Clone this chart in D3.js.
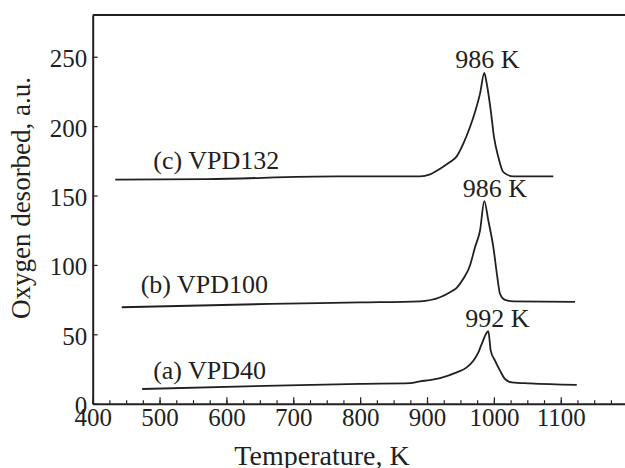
<!DOCTYPE html>
<html>
<head>
<meta charset="utf-8">
<script src="https://cdn.jsdelivr.net/npm/d3@7"></script>
<style>
  html, body { margin: 0; padding: 0; background: #fff; }
  svg { display: block; }
</style>
</head>
<body>
<script>
// TPD curves: [temperature K, oxygen desorbed a.u.]
const curveA = [
  [474, 10.6], [675, 13], [800, 14.3], [875, 14.8], [889.5, 16.1], [904, 17],
  [919.5, 18.5], [944.4, 22.6], [959.4, 26.2], [969.3, 31], [976.8, 37],
  [981.8, 43], [991.7, 52.2], [995.3, 38.2], [1001.7, 31], [1009.2, 23.8],
  [1016.7, 17.8], [1026.7, 15.4], [1054.1, 14.6], [1124, 13.5]
];
const curveB = [
  [443.4, 69.5], [665.2, 71.9], [800, 73], [889.5, 73.8], [919.5, 76.7],
  [934.4, 80.3], [944.4, 83.5], [954.3, 90], [964.3, 99.6], [971.8, 112.8],
  [979.3, 124.8], [985.7, 146], [991.7, 132], [999.2, 112.8], [1005.2, 91.1],
  [1009.2, 79.1], [1016.7, 74.8], [1029.1, 73.8], [1121.4, 73.4]
];
const curveC = [
  [433.8, 161.4], [570.5, 161.8], [765, 163.8], [889.5, 163.8], [904.5, 165.2],
  [919.5, 169.3], [934.4, 174.1], [944.4, 178.2], [954.3, 187.4], [964.3, 199.4],
  [971.8, 210.2], [979.3, 223.4], [985.7, 238.3], [989.3, 230.7], [995.3, 211.4],
  [1000.2, 192.1], [1006.7, 177.7], [1014.1, 166.9], [1029.1, 163.8], [1088.9, 163.8]
];

const seriesNames = ["(a) VPD40", "(b) VPD100", "(c) VPD132"];
const peakLabels = ["992 K", "986 K", "986 K"];

const xMajorTicks = [400, 500, 600, 700, 800, 900, 1000, 1100];
const yTicks = [0, 50, 100, 150, 200, 250];

const width = 625;
const height = 468;
const margin = { top: 15.1, left: 92.7 };
const plotRight = 627.6;
const plotBottom = 403.7;

const ink = "#231f20";
const serif = "'Liberation Serif', 'Times New Roman', serif";

const svg = d3
  .select("body")
  .append("svg")
  .attr("width", width)
  .attr("height", height);

const x = d3.scaleLinear().domain([400, 1200]).range([margin.left, plotRight]);
const y = d3.scaleLinear().domain([0, 280]).range([plotBottom, margin.top]);

// minor ticks every 25 K
svg
  .append("g")
  .attr("transform", `translate(0,${plotBottom})`)
  .call(
    d3.axisBottom(x).tickValues(d3.range(400, 1201, 25)).tickSize(-3.5).tickSizeOuter(0).tickFormat("")
  )
  .call((g) => g.select(".domain").remove())
  .call((g) => g.selectAll("line").attr("stroke", ink).attr("stroke-width", 1.2));

const xAxis = svg
  .append("g")
  .attr("transform", `translate(0,${plotBottom})`)
  .call(
    d3.axisBottom(x).tickValues(xMajorTicks).tickSize(-6.5).tickSizeOuter(0).tickFormat(d3.format("d"))
  )
  .attr("font-family", serif)
  .attr("font-size", 25);

xAxis.select(".domain").attr("stroke", ink).attr("stroke-width", 2);
xAxis.selectAll("line").attr("stroke", ink).attr("stroke-width", 1.2);
xAxis.selectAll("text").attr("fill", ink).attr("y", 22.3).attr("dy", 0);

const yAxis = svg
  .append("g")
  .attr("transform", `translate(${margin.left},0)`)
  .call(d3.axisLeft(y).tickValues(yTicks).tickSize(-5).tickSizeOuter(0).tickFormat(d3.format("d")))
  .attr("font-family", serif)
  .attr("font-size", 25);

yAxis.select(".domain").attr("stroke", ink).attr("stroke-width", 2);
yAxis.selectAll("line").attr("stroke", ink).attr("stroke-width", 1.2);
yAxis.selectAll("text").attr("fill", ink).attr("x", -5.5).attr("dy", "0.4em");

// top frame line
svg
  .append("line")
  .attr("x1", margin.left)
  .attr("x2", plotRight)
  .attr("y1", y(280))
  .attr("y2", y(280))
  .attr("stroke", ink)
  .attr("stroke-width", 2);

const line = d3
  .line()
  .x((d) => x(d[0]))
  .y((d) => y(d[1]))
  .curve(d3.curveMonotoneX);

const curves = [curveA, curveB, curveC];

svg
  .append("g")
  .selectAll("path")
  .data(curves)
  .join("path")
  .attr("d", line)
  .attr("fill", "none")
  .attr("stroke", ink)
  .attr("stroke-width", 1.8)
  .attr("stroke-linejoin", "round");

// series names, placed relative to each curve's start
const nameOffsets = [11, 19, 38];
const nameBaselines = [379, 293, 169];

svg
  .append("g")
  .selectAll("text")
  .data(seriesNames)
  .join("text")
  .attr("x", (d, i) => x(curves[i][0][0]) + nameOffsets[i])
  .attr("y", (d, i) => nameBaselines[i])
  .attr("font-family", serif)
  .attr("font-size", 26)
  .attr("fill", ink)
  .text((d) => d);

// peak temperature labels just above each maximum
const peakShift = [9, 10.5, 3];

svg
  .append("g")
  .selectAll("text")
  .data(peakLabels)
  .join("text")
  .attr("x", (d, i) => {
    const peak = d3.greatest(curves[i], (p) => p[1]);
    return x(peak[0]) + peakShift[i];
  })
  .attr("y", (d, i) => {
    const peak = d3.greatest(curves[i], (p) => p[1]);
    return y(peak[1]) - 4.5;
  })
  .attr("text-anchor", "middle")
  .attr("font-family", serif)
  .attr("font-size", 26)
  .attr("fill", ink)
  .text((d) => d);

// axis titles
svg
  .append("text")
  .attr("x", 322)
  .attr("y", 465)
  .attr("text-anchor", "middle")
  .attr("font-family", serif)
  .attr("font-size", 28)
  .attr("fill", ink)
  .text("Temperature, K");

svg
  .append("text")
  .attr("transform", "translate(30,198) rotate(-90)")
  .attr("text-anchor", "middle")
  .attr("font-family", serif)
  .attr("font-size", 27)
  .attr("fill", ink)
  .text("Oxygen desorbed, a.u.");
</script>
</body>
</html>
